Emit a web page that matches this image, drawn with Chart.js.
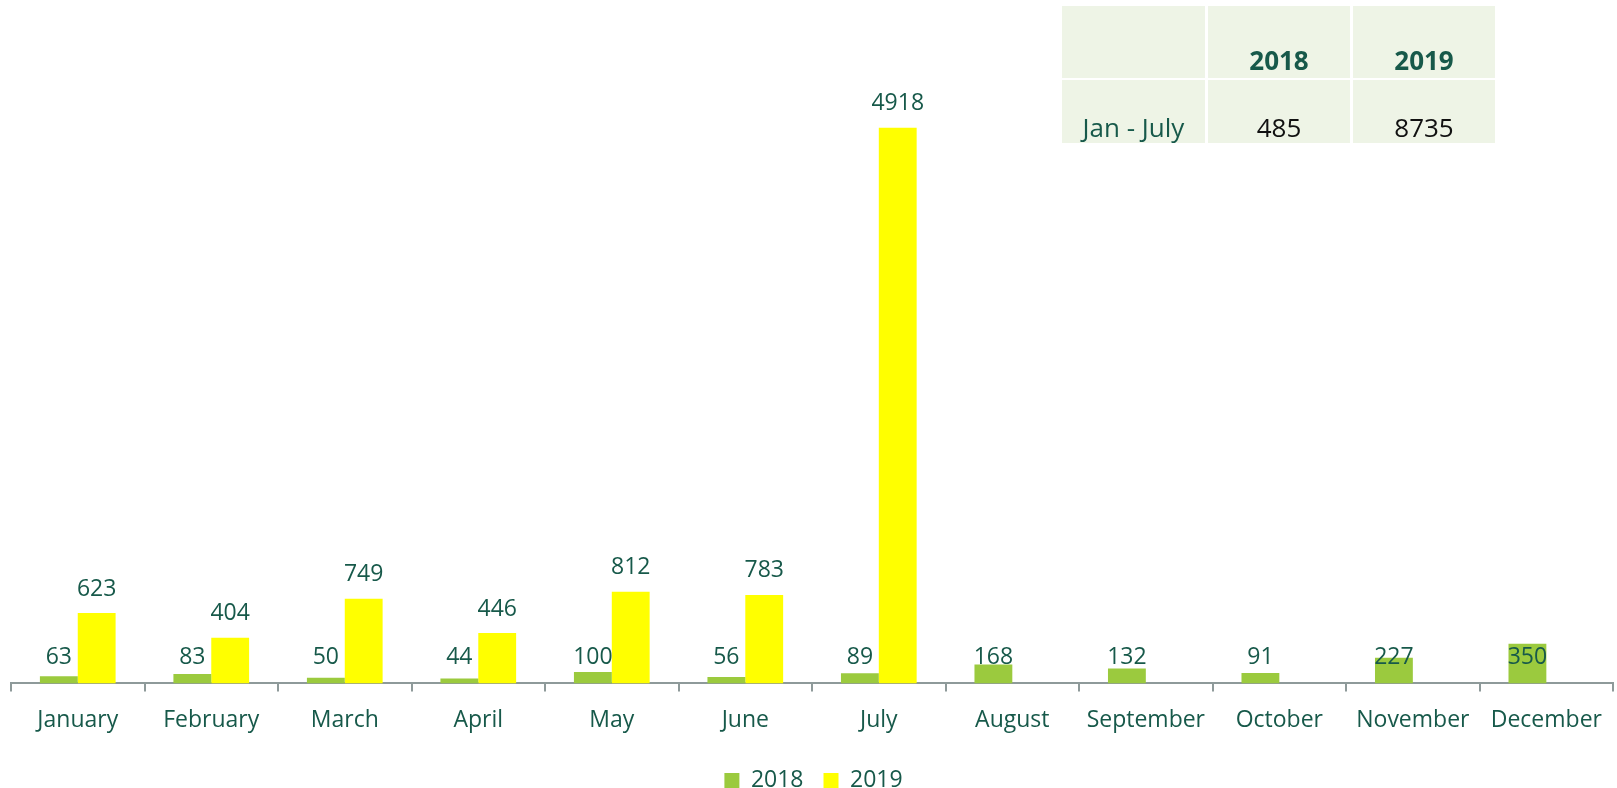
<!DOCTYPE html>
<html>
<head>
<meta charset="utf-8">
<script src="https://cdn.jsdelivr.net/npm/chart.js@4/dist/chart.umd.min.js"></script>
<style>
  html, body { margin: 0; padding: 0; background: #fff; }
  #wrap { position: relative; width: 1617px; height: 788px; }
  .cell {
    position: absolute;
    background: #eef4e6;
    font-family: "Open Sans", sans-serif;
    font-size: 26px;
    color: #17594a;
    text-align: center;
    box-sizing: border-box;
  }
  .cell span { position: absolute; left: 0; right: 0; bottom: 0; }
  .hdr { font-weight: bold; }
  .num { color: #111; }
</style>
</head>
<body>
<div id="wrap">
  <canvas id="salesChart" width="1617" height="788"></canvas>
  <div class="cell" style="left:1062px; top:6px; width:143px; height:72px;"></div>
  <div class="cell hdr" style="left:1208px; top:6px; width:142px; height:72px;"><span style="bottom:0px">2018</span></div>
  <div class="cell hdr" style="left:1353px; top:6px; width:142px; height:72px;"><span style="bottom:0px">2019</span></div>
  <div class="cell" style="left:1062px; top:80px; width:143px; height:63px;"><span style="bottom:-2px">Jan - July</span></div>
  <div class="cell num" style="left:1208px; top:80px; width:142px; height:63px;"><span style="bottom:-2px">485</span></div>
  <div class="cell num" style="left:1353px; top:80px; width:142px; height:63px;"><span style="bottom:-2px">8735</span></div>
</div>
<script>
const months = ['January', 'February', 'March', 'April', 'May', 'June', 'July',
                'August', 'September', 'October', 'November', 'December'];
const sales2018 = [63, 83, 50, 44, 100, 56, 89, 168, 132, 91, 227, 350];
const sales2019 = [623, 404, 749, 446, 812, 783, 4918, null, null, null, null, null];

const textColor = '#17594a';
const fontFamily = '"Open Sans", sans-serif';

// nhãn giá trị trên cột
const valueLabels = {
    id: 'valueLabels',
    afterDatasetsDraw(chart) {
        const ctx = chart.ctx;
        const yScale = chart.scales.y;
        ctx.save();
        ctx.font = '23px ' + fontFamily;
        ctx.fillStyle = textColor;
        ctx.textAlign = 'center';
        ctx.textBaseline = 'middle';
        chart.data.datasets.forEach((ds, i) => {
            chart.getDatasetMeta(i).data.forEach((bar, j) => {
                const v = ds.data[j];
                if (v == null) return;
                const y = i === 0 ? yScale.getPixelForValue(0) - 26 : bar.y - 24;
                ctx.fillText(v, bar.x, y);
            });
        });
        ctx.restore();
    }
};

const ctx = document.getElementById('salesChart').getContext('2d');
new Chart(ctx, {
    type: 'bar',
    data: {
        labels: months,
        datasets: [{
            label: '2018',
            data: sales2018,
            backgroundColor: '#9bca3e'
        }, {
            label: '2019',
            data: sales2019,
            backgroundColor: '#ffff00'
        }]
    },
    options: {
        responsive: false,
        animation: false,
        layout: { padding: { left: 11, right: 1, top: 62, bottom: -14 } },
        datasets: {
            bar: { categoryPercentage: 0.567, barPercentage: 1.0 }
        },
        plugins: {
            tooltip: { enabled: false },
            legend: {
                position: 'bottom',
                labels: {
                    boxWidth: 15,
                    boxHeight: 15,
                    padding: 20,
                    color: textColor,
                    font: { family: fontFamily, size: 23 }
                }
            }
        },
        scales: {
            x: {
                grid: {
                    offset: true,
                    drawOnChartArea: false,
                    drawTicks: true,
                    tickLength: 8,
                    color: '#8e9a9a',
                    lineWidth: 2
                },
                border: { color: '#8e9a9a', width: 2 },
                ticks: {
                    color: textColor,
                    padding: 15,
                    maxRotation: 0,
                    autoSkip: false,
                    font: { family: fontFamily, size: 23 }
                }
            },
            y: {
                display: false,
                min: 0,
                max: 5500
            }
        }
    },
    plugins: [valueLabels]
});
</script>
</body>
</html>
